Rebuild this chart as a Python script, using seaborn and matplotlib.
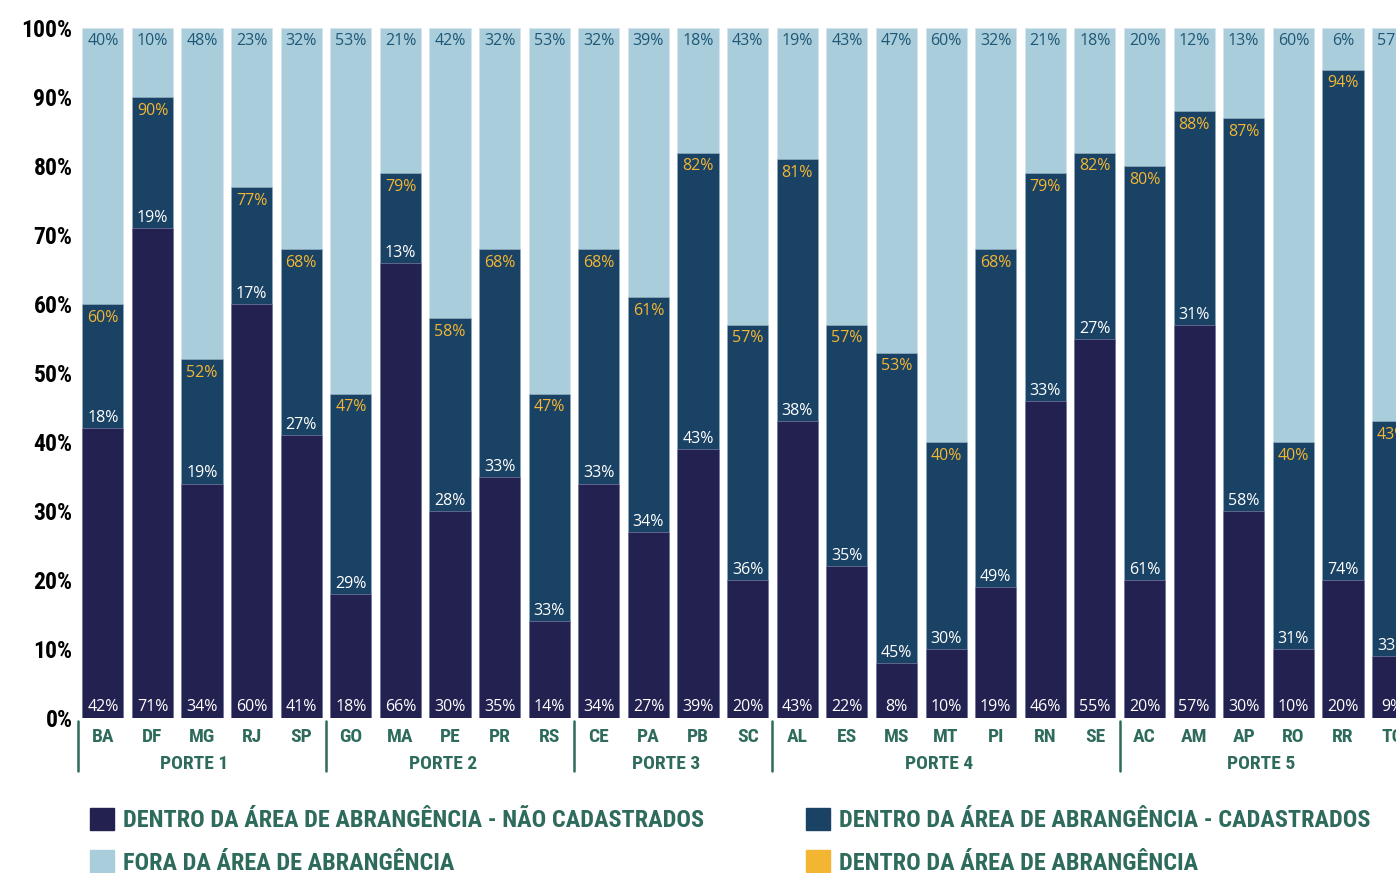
import pandas as pd
import numpy as np
import matplotlib.pyplot as plt
import matplotlib.patches as mpatches
from matplotlib.font_manager import FontProperties
import seaborn as sns

# data
states = ['BA', 'DF', 'MG', 'RJ', 'SP', 'GO', 'MA', 'PE', 'PR', 'RS', 'CE', 'PA', 'PB', 'SC',
          'AL', 'ES', 'MS', 'MT', 'PI', 'RN', 'SE', 'AC', 'AM', 'AP', 'RO', 'RR', 'TO']
nao_cadastrados = [42, 71, 34, 60, 41, 18, 66, 30, 35, 14, 34, 27, 39, 20,
                   43, 22, 8, 10, 19, 46, 55, 20, 57, 30, 10, 20, 9]
cadastrados = [18, 19, 19, 17, 27, 29, 13, 28, 33, 33, 33, 34, 43, 36,
               38, 35, 45, 30, 49, 33, 27, 61, 31, 58, 31, 74, 33]
dentro_total = [60, 90, 52, 77, 68, 47, 79, 58, 68, 47, 68, 61, 82, 57,
                81, 57, 53, 40, 68, 79, 82, 80, 88, 87, 40, 94, 43]
fora = [40, 10, 48, 23, 32, 53, 21, 42, 32, 53, 32, 39, 18, 43,
        19, 43, 47, 60, 32, 21, 18, 20, 12, 13, 60, 6, 57]
groups = ['PORTE 1', 'PORTE 2', 'PORTE 3', 'PORTE 4', 'PORTE 5']
group_sizes = [5, 5, 4, 7, 6]
legend_labels = ['DENTRO DA ÁREA DE ABRANGÊNCIA - NÃO CADASTRADOS',
                 'FORA DA ÁREA DE ABRANGÊNCIA',
                 'DENTRO DA ÁREA DE ABRANGÊNCIA - CADASTRADOS',
                 'DENTRO DA ÁREA DE ABRANGÊNCIA']

NAVY = '#232150'
DARK = '#1a4265'
LIGHT = '#aacddb'
YELLOW = '#f2b632'
TOPTXT = '#1e5876'
GREEN = '#2e6b5c'

df = pd.DataFrame({'uf': states, 'nc': nao_cadastrados, 'cad': cadastrados,
                   'tot': dentro_total, 'fora': fora})
df['full'] = 100

sns.set_style('white')
CONDFAM = ['Roboto Condensed', 'Open Sans Condensed', 'DejaVu Sans']
plt.rcParams['font.family'] = CONDFAM
COND = {'family': CONDFAM, 'weight': 'bold'}
VAL = {'family': ['Open Sans', 'DejaVu Sans'], 'fontsize': 11.5}

fig = plt.figure(figsize=(13.96, 8.73), dpi=100)
ax = fig.add_axes([0.0559, 0.1775, 1 - 0.0559, 0.790])

w = 0.83
sns.barplot(data=df, x='uf', y='full', color=LIGHT, width=w, saturation=1, ax=ax,
            edgecolor='#d5e6ee', linewidth=0.6)
sns.barplot(data=df, x='uf', y='tot', color=DARK, width=w, saturation=1, ax=ax,
            edgecolor='#9fb8c8', linewidth=0.4)
sns.barplot(data=df, x='uf', y='nc', color=NAVY, width=w, saturation=1, ax=ax,
            edgecolor='#8a8fb0', linewidth=0.4)

for i, r in df.iterrows():
    ax.annotate(f"{r['nc']}%", (i, 0), xytext=(0, 2), textcoords='offset points',
                ha='center', va='bottom', color='white', **VAL)
    ax.annotate(f"{r['cad']}%", (i, r['nc']), xytext=(0, 1.5), textcoords='offset points',
                ha='center', va='bottom', color='white', **VAL)
    ax.annotate(f"{r['tot']}%", (i, r['tot']), xytext=(0, -4), textcoords='offset points',
                ha='center', va='top', color=YELLOW, **VAL)
    ax.annotate(f"{r['fora']}%", (i, 100), xytext=(0, -3), textcoords='offset points',
                ha='center', va='top', color=TOPTXT, **VAL)

ax.set_xlim(-0.5, 26.07)
ax.set_ylim(0, 100)
ax.set_yticks(np.arange(0, 101, 10))
ax.set_yticklabels([f"{v}%" for v in range(0, 101, 10)], fontsize=17, color='black', **COND)
ax.tick_params(axis='y', length=0, pad=4)
ax.set_xticks([])
ax.set_xlabel('')
ax.set_ylabel('')
sns.despine(ax=ax, left=True, bottom=True)

# state labels, group labels and separators below the axis
trans = ax.get_xaxis_transform()
for i, s in enumerate(states):
    ax.text(i, -0.027, s, transform=trans, ha='center', va='center', fontsize=14,
            color=GREEN, clip_on=False, **COND)
start = 0
for g, n in zip(groups, group_sizes):
    ax.plot([start - 0.5, start - 0.5], [-0.005, -0.077], transform=trans, color=GREEN,
            lw=1.8, clip_on=False)
    ax.text(start + (n - 1) / 2 - 0.15, -0.067, g, transform=trans, ha='center', va='center',
            fontsize=14, color=GREEN, clip_on=False, **COND)
    start += n

# legend in two columns
h1 = [mpatches.Patch(color=NAVY), mpatches.Patch(color=LIGHT)]
h2 = [mpatches.Patch(color=DARK), mpatches.Patch(color=YELLOW)]
lp = FontProperties(family=CONDFAM, weight='bold', size=17.5)
for hs, labs, x0 in [(h1, legend_labels[:2], 0.0645), (h2, legend_labels[2:], 0.5774)]:
    fig.legend(hs, labs, loc='upper left', bbox_to_anchor=(x0, 0.0745), frameon=False,
               prop=lp, labelcolor=GREEN, handlelength=1.0, handleheight=1.0,
               handletextpad=0.37, labelspacing=0.75, borderaxespad=0, borderpad=0)

fig.savefig('out.png', dpi=100)
